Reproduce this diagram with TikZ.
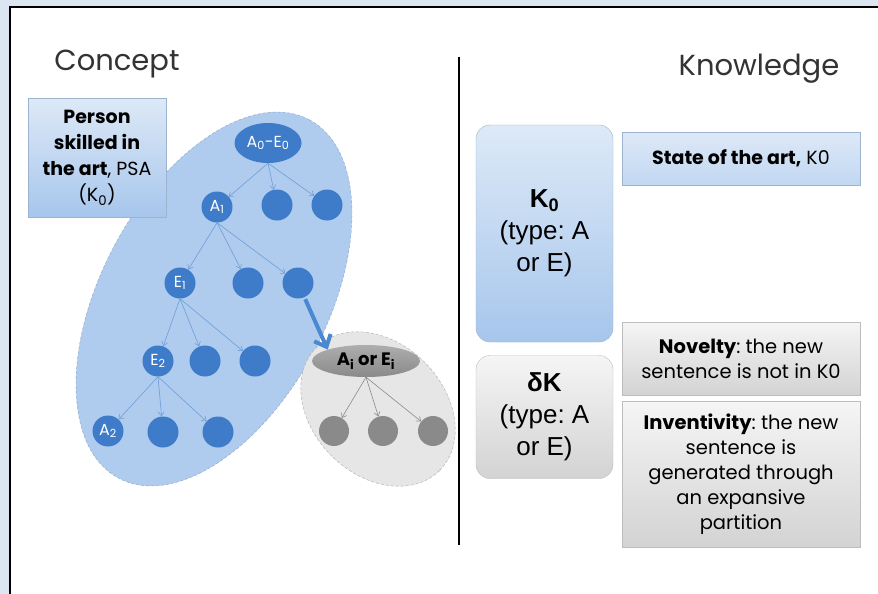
\documentclass[tikz,border=0pt]{standalone}
\usepackage{fontspec}
\setmainfont{Poppins}
\newfontfamily\arialfont{Liberation Sans}
\usetikzlibrary{arrows.meta,shapes.geometric}
\definecolor{framebg}{HTML}{DCE6F2}
\definecolor{fieldblue}{HTML}{AFCBEE}
\definecolor{fieldline}{HTML}{8AA6C8}
\definecolor{nodeblue}{HTML}{3E7BC9}
\definecolor{arrblue}{HTML}{6E9ED8}
\definecolor{bigblue}{HTML}{4A88D2}
\definecolor{boxtop}{HTML}{DDE9F7}
\definecolor{boxbot}{HTML}{A7C6EC}
\definecolor{boxline}{HTML}{9DB3CF}
\definecolor{fieldgray}{HTML}{E6E6E6}
\definecolor{grayline}{HTML}{ABABAB}
\definecolor{nodegray}{HTML}{8A8A8A}
\definecolor{gtop}{HTML}{F5F5F5}
\definecolor{gbot}{HTML}{D3D3D3}
\definecolor{gline}{HTML}{BDBDBD}
\tikzset{
  title/.style={font=\fontsize{29}{29}\selectfont, text=black!80},
  bnode/.style={circle, fill=nodeblue, minimum size=31pt, inner sep=0pt,
                text=white, font=\fontsize{16}{16}\selectfont},
  gnode/.style={circle, fill=nodegray, minimum size=30pt, inner sep=0pt},
  tarr/.style={-{Straight Barb[length=4pt,width=6pt]}, semithick, draw=arrblue},
  garr/.style={-{Straight Barb[length=4pt,width=6pt]}, semithick, draw=nodegray},
  bigarr/.style={-{Straight Barb[length=10pt,width=18pt]}, line width=4pt, draw=bigblue},
  bluebox/.style={draw=boxline, top color=boxtop, bottom color=boxbot, align=center,
                  inner sep=0pt, font=\fontsize{19}{26}\selectfont},
  graybox/.style={draw=gline, top color=gtop, bottom color=gbot, align=center,
                  inner sep=0pt, font=\fontsize{19.5}{25}\selectfont},
  typebox/.style={rounded corners=14pt, font=\arialfont\fontsize{26}{32}\selectfont}
}

\begin{document}
\frenchspacing
\begin{tikzpicture}[x=1pt,y=-1pt]
  \useasboundingbox (0,0) rectangle (878,594);
  \fill[framebg] (0,0) rectangle (878,594);
  \fill[white] (10,7) rectangle (878,594);
  \draw[line width=1.5pt] (10,594) -- (10,7) -- (878,7);

  \node[title] (concept) at (117,64) {Concept};
  \node[title] (knowledge) at (759,69) {Knowledge};
  \draw[line width=2.5pt] (459,57) -- (459,545);

  % concept field
  \node[ellipse, minimum width=406pt, minimum height=226pt, rotate=62, inner sep=0pt,
        fill=fieldblue, draw=fieldline, densely dashed, thin] (field) at (214,299) {};
  \node[ellipse, minimum width=174pt, minimum height=132pt, rotate=-45, inner sep=0pt,
        fill=fieldgray, draw=grayline, densely dashed, thin] (subfield) at (378,409) {};

  \node[bluebox, minimum width=138pt, minimum height=119pt] (psa) at (97,157.5)
      {\bfseries Person\\\bfseries skilled in\\\textbf{the art}, PSA\\(K\textsubscript{0})};

  \node[bnode, ellipse, minimum width=67pt, minimum height=40pt] (a0e0) at (268,143) {A\textsubscript{0}-E\textsubscript{0}};
  \node[bnode] (a1)  at (217,207) {A\textsubscript{1}};
  \node[bnode] (n12) at (277,205) {};
  \node[bnode] (n13) at (327,205) {};
  \node[bnode] (e1)  at (180,283) {E\textsubscript{1}};
  \node[bnode] (n22) at (248,283) {};
  \node[bnode] (n23) at (298,283) {};
  \node[bnode] (e2)  at (158,361) {E\textsubscript{2}};
  \node[bnode] (n32) at (205,361) {};
  \node[bnode] (n33) at (255,361) {};
  \node[bnode] (a2)  at (108,431) {A\textsubscript{2}};
  \node[bnode] (n42) at (163,432) {};
  \node[bnode] (n43) at (218,432) {};

  \foreach \c in {a1,n12,n13} \draw[tarr] (a0e0.south) -- (\c);
  \foreach \c in {e1,n22,n23} \draw[tarr] (a1.south) -- (\c);
  \foreach \c in {e2,n32,n33} \draw[tarr] (e1.south) -- (\c);
  \foreach \c in {a2,n42,n43} \draw[tarr] (e2.south) -- (\c);

  % expansion
  \node[ellipse, minimum width=108pt, minimum height=32pt, inner sep=0pt,
        top color=nodegray!70, bottom color=nodegray, font=\bfseries\fontsize{18}{18}\selectfont]
      (aiei) at (366,361) {A\textsubscript{i} or E\textsubscript{i}};
  \node[gnode] (g1) at (334,431) {};
  \node[gnode] (g2) at (383,431) {};
  \node[gnode] (g3) at (433,431) {};
  \foreach \c in {g1,g2,g3} \draw[garr] (aiei.south) -- (\c);
  \draw[bigarr, shorten <=2pt] (n23) -- (aiei.north west);

  % knowledge
  \node[bluebox, typebox, minimum width=137pt, minimum height=217pt] (k0box) at (544.5,233.5)
      {\textbf{K\textsubscript{0}}\\(type: A\\or E)};
  \node[graybox, typebox, minimum width=137pt, minimum height=123pt] (dkbox) at (544.5,417)
      {\textbf{δK}\\(type: A\\or E)};
  \node[bluebox, top color=boxtop, bottom color=boxbot!70, minimum width=238pt, minimum height=53pt]
      (state) at (741,158.5) {\textbf{State of the art,} K0};
  \node[graybox, minimum width=238pt, minimum height=73pt] (novelty) at (741,358.5)
      {\textbf{Novelty}: the new\\sentence is not in K0};
  \node[graybox, minimum width=238pt, minimum height=146pt] (invent) at (741,474)
      {\textbf{Inventivity}: the new\\sentence is\\generated through\\an expansive\\partition};
\end{tikzpicture}
\end{document}
